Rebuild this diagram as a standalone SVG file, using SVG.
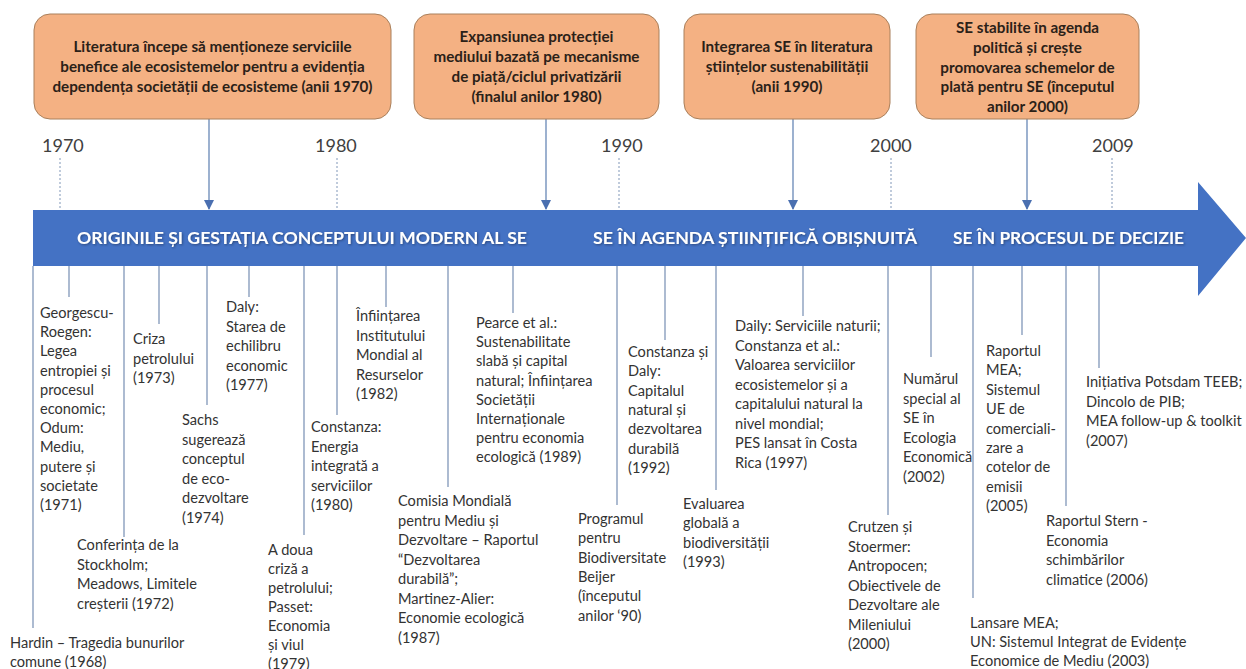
<svg xmlns="http://www.w3.org/2000/svg" width="1246" height="669" viewBox="0 0 1246 669">
<defs>
<style>
.box{fill:#F4B183;stroke:#A9805C;stroke-width:1}
.bt{font-family:Lato,"Liberation Sans",sans-serif;font-weight:bold;font-size:15.2px;fill:#2b2118;text-anchor:middle}
.yr{font-family:Lato,"Liberation Sans",sans-serif;font-size:18px;fill:#404040}
.ev{font-family:Lato,"Liberation Sans",sans-serif;font-size:14.6px;fill:#333333}
.at{font-family:Lato,"Liberation Sans",sans-serif;font-weight:bold;font-size:17px;fill:#ffffff}
.tick{stroke:#8097B8;stroke-width:1.3;fill:none}
.dash{stroke:#8097B8;stroke-width:1;stroke-dasharray:2,2;fill:none}
.conn{stroke:#5B7DB0;stroke-width:1.2;fill:none}
</style>
<marker id="ah" markerWidth="10" markerHeight="10" refX="9" refY="5" orient="auto" markerUnits="userSpaceOnUse">
<path d="M0,0 L10,5 L0,10 Z" fill="#4A6FB0"/>
</marker>
<filter id="sh" x="-5%" y="-30%" width="110%" height="160%">
<feDropShadow dx="1" dy="1" stdDeviation="0.8" flood-color="#1a2a50" flood-opacity="0.6"/>
</filter>
</defs>
<rect width="1246" height="669" fill="#ffffff"/>

<g id="timeline-arrow">
<polygon points="33,210 1198,210 1198,182 1246,238 1198,296 1198,266 33,266" fill="#4472C4"/>
<g filter="url(#sh)">
<text class="at" x="77" y="244" textLength="450" lengthAdjust="spacingAndGlyphs">ORIGINILE ȘI GESTAȚIA CONCEPTULUI MODERN AL SE</text>
<text class="at" x="593" y="244" textLength="324" lengthAdjust="spacingAndGlyphs">SE ÎN AGENDA ȘTIINȚIFICĂ OBIȘNUITĂ</text>
<text class="at" x="953" y="244" textLength="231" lengthAdjust="spacingAndGlyphs">SE ÎN PROCESUL DE DECIZIE</text>
</g>
</g>

<g id="connectors">
<line class="conn" x1="209" y1="119" x2="209" y2="209" marker-end="url(#ah)"/>
<line class="conn" x1="546" y1="119" x2="546" y2="209" marker-end="url(#ah)"/>
<line class="conn" x1="793" y1="119" x2="793" y2="209" marker-end="url(#ah)"/>
<line class="conn" x1="1027" y1="119" x2="1027" y2="209" marker-end="url(#ah)"/>
<line class="dash" x1="60" y1="158" x2="60" y2="210"/>
<line class="dash" x1="337" y1="158" x2="337" y2="210"/>
<line class="dash" x1="619" y1="158" x2="619" y2="210"/>
<line class="dash" x1="891" y1="158" x2="891" y2="210"/>
<line class="dash" x1="1112" y1="158" x2="1112" y2="210"/>
<line class="tick" x1="33" y1="266" x2="33" y2="628"/>
<line class="tick" x1="69" y1="266" x2="69" y2="297"/>
<line class="tick" x1="124" y1="266" x2="124" y2="537"/>
<line class="tick" x1="159" y1="266" x2="159" y2="324"/>
<line class="tick" x1="207" y1="266" x2="207" y2="405"/>
<line class="tick" x1="249" y1="266" x2="249" y2="297"/>
<line class="tick" x1="304" y1="266" x2="304" y2="535"/>
<line class="tick" x1="337" y1="266" x2="337" y2="415"/>
<line class="tick" x1="386" y1="266" x2="386" y2="307"/>
<line class="tick" x1="448" y1="266" x2="448" y2="487"/>
<line class="tick" x1="513" y1="266" x2="513" y2="313"/>
<line class="tick" x1="617" y1="266" x2="617" y2="505"/>
<line class="tick" x1="665" y1="266" x2="665" y2="340"/>
<line class="tick" x1="716" y1="266" x2="716" y2="490"/>
<line class="tick" x1="803" y1="266" x2="803" y2="316"/>
<line class="tick" x1="888" y1="266" x2="888" y2="515"/>
<line class="tick" x1="931" y1="266" x2="931" y2="357"/>
<line class="tick" x1="973" y1="266" x2="973" y2="598"/>
<line class="tick" x1="1022" y1="266" x2="1022" y2="335"/>
<line class="tick" x1="1066" y1="266" x2="1066" y2="506"/>
<line class="tick" x1="1099" y1="266" x2="1099" y2="368"/>
</g>

<g id="box1">
<rect class="box" x="34" y="14" width="357" height="105" rx="16"/>
<text class="bt"><tspan x="212.5" y="52">Literatura începe să menționeze serviciile</tspan><tspan x="212.5" y="72">benefice ale ecosistemelor pentru a evidenția</tspan><tspan x="212.5" y="92">dependența societății de ecosisteme (anii 1970)</tspan></text>
</g>
<g id="box2">
<rect class="box" x="414" y="14" width="245" height="105" rx="16"/>
<text class="bt"><tspan x="536.5" y="42">Expansiunea protecției</tspan><tspan x="536.5" y="62">mediului bazată pe mecanisme</tspan><tspan x="536.5" y="82">de piață/ciclul privatizării</tspan><tspan x="536.5" y="102">(finalul anilor 1980)</tspan></text>
</g>
<g id="box3">
<rect class="box" x="684" y="14" width="206" height="105" rx="16"/>
<text class="bt"><tspan x="787" y="52">Integrarea SE în literatura</tspan><tspan x="787" y="72">științelor sustenabilității</tspan><tspan x="787" y="92">(anii 1990)</tspan></text>
</g>
<g id="box4">
<rect class="box" x="916" y="14" width="223" height="105" rx="16"/>
<text class="bt"><tspan x="1027.5" y="33">SE stabilite în agenda</tspan><tspan x="1027.5" y="53">politică și crește</tspan><tspan x="1027.5" y="73">promovarea schemelor de</tspan><tspan x="1027.5" y="92">plată pentru SE (începutul</tspan><tspan x="1027.5" y="112">anilor 2000)</tspan></text>
</g>

<g id="years">
<text class="yr" x="42" y="152">1970</text>
<text class="yr" x="315" y="152">1980</text>
<text class="yr" x="601" y="152">1990</text>
<text class="yr" x="870" y="152">2000</text>
<text class="yr" x="1092" y="152">2009</text>
</g>

<g id="ev1968"><text class="ev"><tspan x="10" y="648">Hardin – Tragedia bunurilor</tspan><tspan x="10" dy="19">comune (1968)</tspan></text></g>
<g id="ev1971"><text class="ev"><tspan x="40" y="318">Georgescu-</tspan><tspan x="40" dy="19.2">Roegen:</tspan><tspan x="40" dy="19.2">Legea</tspan><tspan x="40" dy="19.2">entropiei și</tspan><tspan x="40" dy="19.2">procesul</tspan><tspan x="40" dy="19.2">economic;</tspan><tspan x="40" dy="19.2">Odum:</tspan><tspan x="40" dy="19.2">Mediu,</tspan><tspan x="40" dy="19.2">putere și</tspan><tspan x="40" dy="19.2">societate</tspan><tspan x="40" dy="19.2">(1971)</tspan></text></g>
<g id="ev1972"><text class="ev"><tspan x="77" y="550">Conferința de la</tspan><tspan x="77" dy="19.5">Stockholm;</tspan><tspan x="77" dy="19.5">Meadows, Limitele</tspan><tspan x="77" dy="19.5">creșterii (1972)</tspan></text></g>
<g id="ev1973"><text class="ev"><tspan x="133" y="344">Criza</tspan><tspan x="133" dy="19.5">petrolului</tspan><tspan x="133" dy="19.5">(1973)</tspan></text></g>
<g id="ev1974"><text class="ev"><tspan x="182" y="425">Sachs</tspan><tspan x="182" dy="19.5">sugerează</tspan><tspan x="182" dy="19.5">conceptul</tspan><tspan x="182" dy="19.5">de eco-</tspan><tspan x="182" dy="19.5">dezvoltare</tspan><tspan x="182" dy="19.5">(1974)</tspan></text></g>
<g id="ev1977"><text class="ev"><tspan x="226" y="312">Daly:</tspan><tspan x="226" dy="19.5">Starea de</tspan><tspan x="226" dy="19.5">echilibru</tspan><tspan x="226" dy="19.5">economic</tspan><tspan x="226" dy="19.5">(1977)</tspan></text></g>
<g id="ev1979"><text class="ev"><tspan x="268" y="555">A doua</tspan><tspan x="268" dy="19">criză a</tspan><tspan x="268" dy="19">petrolului;</tspan><tspan x="268" dy="19">Passet:</tspan><tspan x="268" dy="19">Economia</tspan><tspan x="268" dy="19">și viul</tspan><tspan x="268" dy="19">(1979)</tspan></text></g>
<g id="ev1980"><text class="ev"><tspan x="311" y="432">Constanza:</tspan><tspan x="311" dy="19.5">Energia</tspan><tspan x="311" dy="19.5">integrată a</tspan><tspan x="311" dy="19.5">serviciilor</tspan><tspan x="311" dy="19.5">(1980)</tspan></text></g>
<g id="ev1982"><text class="ev"><tspan x="356" y="321">Înființarea</tspan><tspan x="356" dy="19.5">Institutului</tspan><tspan x="356" dy="19.5">Mondial al</tspan><tspan x="356" dy="19.5">Resurselor</tspan><tspan x="356" dy="19.5">(1982)</tspan></text></g>
<g id="ev1987"><text class="ev"><tspan x="398" y="506">Comisia Mondială</tspan><tspan x="398" dy="19.5">pentru Mediu și</tspan><tspan x="398" dy="19.5">Dezvoltare – Raportul</tspan><tspan x="398" dy="19.5">“Dezvoltarea</tspan><tspan x="398" dy="19.5">durabilă”;</tspan><tspan x="398" dy="19.5">Martinez-Alier:</tspan><tspan x="398" dy="19.5">Economie ecologică</tspan><tspan x="398" dy="19.5">(1987)</tspan></text></g>
<g id="ev1989"><text class="ev"><tspan x="476" y="328">Pearce et al.:</tspan><tspan x="476" dy="19.2">Sustenabilitate</tspan><tspan x="476" dy="19.2">slabă și capital</tspan><tspan x="476" dy="19.2">natural; Înființarea</tspan><tspan x="476" dy="19.2">Societății</tspan><tspan x="476" dy="19.2">Internaționale</tspan><tspan x="476" dy="19.2">pentru economia</tspan><tspan x="476" dy="19.2">ecologică (1989)</tspan></text></g>
<g id="ev1990s"><text class="ev"><tspan x="578" y="524">Programul</tspan><tspan x="578" dy="19.3">pentru</tspan><tspan x="578" dy="19.3">Biodiversitate</tspan><tspan x="578" dy="19.3">Beijer</tspan><tspan x="578" dy="19.3">(începutul</tspan><tspan x="578" dy="19.3">anilor ‘90)</tspan></text></g>
<g id="ev1992"><text class="ev"><tspan x="628" y="357">Constanza și</tspan><tspan x="628" dy="19.3">Daly:</tspan><tspan x="628" dy="19.3">Capitalul</tspan><tspan x="628" dy="19.3">natural și</tspan><tspan x="628" dy="19.3">dezvoltarea</tspan><tspan x="628" dy="19.3">durabilă</tspan><tspan x="628" dy="19.3">(1992)</tspan></text></g>
<g id="ev1993"><text class="ev"><tspan x="683" y="509">Evaluarea</tspan><tspan x="683" dy="19.3">globală a</tspan><tspan x="683" dy="19.3">biodiversității</tspan><tspan x="683" dy="19.3">(1993)</tspan></text></g>
<g id="ev1997"><text class="ev"><tspan x="735" y="331">Daily: Serviciile naturii;</tspan><tspan x="735" dy="19.5">Constanza et al.:</tspan><tspan x="735" dy="19.5">Valoarea serviciilor</tspan><tspan x="735" dy="19.5">ecosistemelor și a</tspan><tspan x="735" dy="19.5">capitalului natural la</tspan><tspan x="735" dy="19.5">nivel mondial;</tspan><tspan x="735" dy="19.5">PES lansat în Costa</tspan><tspan x="735" dy="19.5">Rica (1997)</tspan></text></g>
<g id="ev2000"><text class="ev"><tspan x="848" y="532">Crutzen și</tspan><tspan x="848" dy="19.5">Stoermer:</tspan><tspan x="848" dy="19.5">Antropocen;</tspan><tspan x="848" dy="19.5">Obiectivele de</tspan><tspan x="848" dy="19.5">Dezvoltare ale</tspan><tspan x="848" dy="19.5">Mileniului</tspan><tspan x="848" dy="19.5">(2000)</tspan></text></g>
<g id="ev2002"><text class="ev"><tspan x="903" y="384">Numărul</tspan><tspan x="903" dy="19.5">special al</tspan><tspan x="903" dy="19.5">SE în</tspan><tspan x="903" dy="19.5">Ecologia</tspan><tspan x="903" dy="19.5">Economică</tspan><tspan x="903" dy="19.5">(2002)</tspan></text></g>
<g id="ev2003"><text class="ev"><tspan x="970" y="628">Lansare MEA;</tspan><tspan x="970" dy="19">UN: Sistemul Integrat de Evidențe</tspan><tspan x="970" dy="19">Economice de Mediu (2003)</tspan></text></g>
<g id="ev2005"><text class="ev"><tspan x="986" y="356">Raportul</tspan><tspan x="986" dy="19.4">MEA;</tspan><tspan x="986" dy="19.4">Sistemul</tspan><tspan x="986" dy="19.4">UE de</tspan><tspan x="986" dy="19.4">comerciali-</tspan><tspan x="986" dy="19.4">zare a</tspan><tspan x="986" dy="19.4">cotelor de</tspan><tspan x="986" dy="19.4">emisii</tspan><tspan x="986" dy="19.4">(2005)</tspan></text></g>
<g id="ev2006"><text class="ev"><tspan x="1046" y="526">Raportul Stern -</tspan><tspan x="1046" dy="19.5">Economia</tspan><tspan x="1046" dy="19.5">schimbărilor</tspan><tspan x="1046" dy="19.5">climatice (2006)</tspan></text></g>
<g id="ev2007"><text class="ev"><tspan x="1086" y="387">Inițiativa Potsdam TEEB;</tspan><tspan x="1086" dy="19.5">Dincolo de PIB;</tspan><tspan x="1086" dy="19.5">MEA follow-up &amp; toolkit</tspan><tspan x="1086" dy="19.5">(2007)</tspan></text></g>
</svg>
